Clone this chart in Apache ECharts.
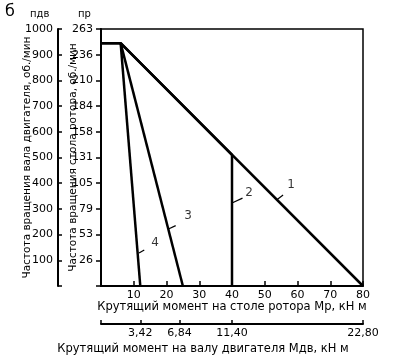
<!DOCTYPE html>
<html><head><meta charset="utf-8">
<script src="https://cdn.jsdelivr.net/npm/echarts@6/dist/echarts.min.js"></script>
<style>html,body{margin:0;padding:0;background:#fff}#c{width:400px;height:363px}</style>
</head><body><div id="c"></div>
<script>
// Data
const motorRpmTicks = [100, 200, 300, 400, 500, 600, 700, 800, 900, 1000];
const rotorRpmLabels = ['', '26', '53', '79', '105', '131', '158', '184', '210', '236', '263'];
const rotorTorqueTicks = [10, 20, 30, 40, 50, 60, 70, 80];
const motorTorqueTicks = [3.42, 6.84, 11.40, 22.80];
const line1 = [[0, 945], [6, 945], [80, 0]];
const line2 = [[0, 945], [6, 945], [40, 510], [40, 0]];
const line3 = [[6, 945], [25, 0]];
const line4 = [[6, 945], [12, 0]];
const leaders = [
  [[53.7, 336], [55.6, 354]],
  [[40, 323], [43.2, 342]],
  [[20.6, 222], [22.8, 235]],
  [[11.6, 128], [13.2, 140]]
];
const curveNames = ['1', '2', '3', '4'];
const curveLabelPos = [[58, 393], [45.2, 362], [26.6, 272], [16.5, 167]];

const font = 'DejaVu Sans';
const black = '#000';
const chart = echarts.init(document.getElementById('c'), null, {renderer: 'canvas'});

const lineSeries = (data, w) => ({
  type: 'line', data, symbol: 'none', animation: false, silent: true,
  lineStyle: {color: black, width: w}, xAxisIndex: 0, yAxisIndex: 0
});

const series = [
  lineSeries(line1, 2.5), lineSeries(line2, 2.5), lineSeries(line3, 2.5), lineSeries(line4, 2.5)
];
leaders.forEach(l => series.push(lineSeries(l, 1.2)));
series.push({
  type: 'scatter', xAxisIndex: 0, yAxisIndex: 0, symbolSize: 0, animation: false, silent: true,
  data: curveLabelPos.map((p, i) => ({value: p, name: curveNames[i]})),
  label: {show: true, position: 'inside', formatter: p => p.name, color: black, fontFamily: font, fontSize: 12}
});

chart.setOption({
  animation: false,
  backgroundColor: '#fff',
  grid: {left: 101, right: 37, top: 29, bottom: 77, show: true, borderColor: black, borderWidth: 1.5,
    containLabel: false, outerBoundsMode: 'none'},
  xAxis: [
    {
      type: 'value', min: 0, max: 80, interval: 10, position: 'bottom',
      axisLine: {show: true, onZero: false, lineStyle: {color: black, width: 2}},
      axisTick: {show: true, inside: true, length: 5, lineStyle: {color: black, width: 1.5}},
      axisLabel: {color: black, fontFamily: font, fontSize: 11, margin: 4,
        formatter: v => rotorTorqueTicks.includes(v) ? String(v) : ''},
      splitLine: {show: false},
      name: 'Крутящий момент на столе ротора Мр, кН м', nameLocation: 'middle', nameGap: 15, nameMoveOverlap: false,
      nameTextStyle: {color: black, fontFamily: font, fontSize: 11.5, verticalAlign: 'top'}
    },
    {
      type: 'value', min: 0, max: 22.8, position: 'bottom', offset: 38,
      axisLine: {show: true, onZero: false, lineStyle: {color: black, width: 2}},
      axisTick: {show: true, inside: true, length: 4, customValues: [0].concat(motorTorqueTicks), lineStyle: {color: black, width: 1.5}},
      axisLabel: {color: black, fontFamily: font, fontSize: 11, margin: 4, customValues: motorTorqueTicks,
        formatter: v => v.toFixed(2).replace('.', ',')},
      splitLine: {show: false}
    }
  ],
  yAxis: [
    {
      type: 'value', min: 0, max: 1000, interval: 100, position: 'left', offset: 0,
      axisLine: {show: true, onZero: false, lineStyle: {color: black, width: 2}},
      axisTick: {show: true, inside: false, length: 5, lineStyle: {color: black, width: 1.5}},
      axisLabel: {color: black, fontFamily: font, fontSize: 11, margin: 8,
        formatter: v => rotorRpmLabels[Math.round(v / 100)] || ''},
      splitLine: {show: false},
      name: 'Частота вращения стола ротора, об./мин', nameLocation: 'middle', nameGap: 22, nameRotate: 90, nameMoveOverlap: false,
      nameTextStyle: {color: black, fontFamily: font, fontSize: 10.5}
    },
    {
      type: 'value', min: 0, max: 1000, interval: 100, position: 'left', offset: 43,
      axisLine: {show: true, onZero: false, lineStyle: {color: black, width: 2}},
      axisTick: {show: true, inside: true, length: 4, lineStyle: {color: black, width: 1.5}},
      axisLabel: {color: black, fontFamily: font, fontSize: 11, margin: 5,
        formatter: v => motorRpmTicks.includes(v) ? String(v) : ''},
      splitLine: {show: false},
      name: 'Частота вращения вала двигателя, об./мин', nameLocation: 'middle', nameGap: 25, nameRotate: 90, nameMoveOverlap: false,
      nameTextStyle: {color: black, fontFamily: font, fontSize: 10.5}
    }
  ],
  graphic: [
    {type: 'text', left: 5, top: 4, style: {text: 'б', fill: black, font: '16px DejaVu Sans'}},
    {type: 'text', left: 30, top: 9, style: {text: 'пдв', fill: black, font: '10px DejaVu Sans'}},
    {type: 'text', left: 78, top: 9, style: {text: 'пр', fill: black, font: '10px DejaVu Sans'}},
    {type: 'text', x: 203, y: 349, style: {text: 'Крутящий момент на валу двигателя Мдв, кН м', fill: black,
      font: '11.5px DejaVu Sans', align: 'center', verticalAlign: 'middle'}}
  ],
  series
});
</script></body></html>
